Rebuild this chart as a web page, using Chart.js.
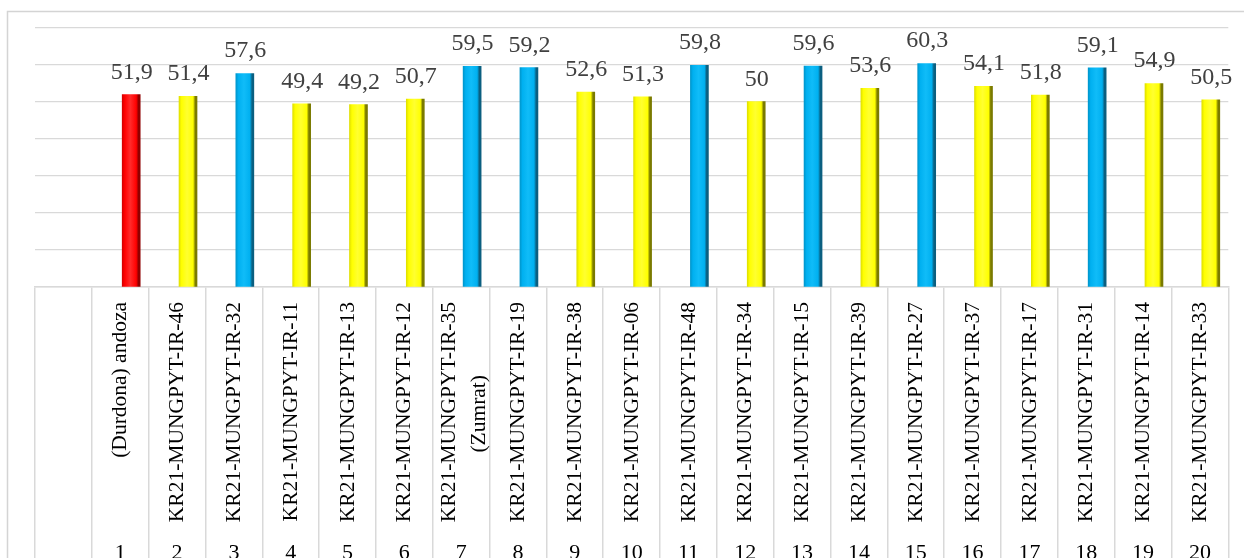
<!DOCTYPE html>
<html>
<head>
<meta charset="utf-8">
<script src="https://cdn.jsdelivr.net/npm/chart.js@4/dist/chart.umd.min.js"></script>
<style>
  html, body { margin: 0; padding: 0; background: #ffffff; }
  canvas { display: block; }
</style>
</head>
<body>
<canvas id="c" width="1244" height="558"></canvas>
<script>
// ---- data ----
const categories = [
  '(Durdona) andoza',
  'KR21-MUNGPYT-IR-46',
  'KR21-MUNGPYT-IR-32',
  'KR21-MUNGPYT-IR-11',
  'KR21-MUNGPYT-IR-13',
  'KR21-MUNGPYT-IR-12',
  ['KR21-MUNGPYT-IR-35', '(Zumrat)'],
  'KR21-MUNGPYT-IR-19',
  'KR21-MUNGPYT-IR-38',
  'KR21-MUNGPYT-IR-06',
  'KR21-MUNGPYT-IR-48',
  'KR21-MUNGPYT-IR-34',
  'KR21-MUNGPYT-IR-15',
  'KR21-MUNGPYT-IR-39',
  'KR21-MUNGPYT-IR-27',
  'KR21-MUNGPYT-IR-37',
  'KR21-MUNGPYT-IR-17',
  'KR21-MUNGPYT-IR-31',
  'KR21-MUNGPYT-IR-14',
  'KR21-MUNGPYT-IR-33'
];
const rowNumbers = [1, 2, 3, 4, 5, 6, 7, 8, 9, 10, 11, 12, 13, 14, 15, 16, 17, 18, 19, 20];
const values = [51.9, 51.4, 57.6, 49.4, 49.2, 50.7, 59.5, 59.2, 52.6, 51.3, 59.8, 50, 59.6, 53.6, 60.3, 54.1, 51.8, 59.1, 54.9, 50.5];
const barGroup = ['standard', 'other', 'best', 'other', 'other', 'other', 'best', 'best', 'other', 'other',
                  'best', 'other', 'best', 'other', 'best', 'other', 'other', 'best', 'other', 'other'];
const yTicks = [0, 10, 20, 30, 40, 50, 60, 70];

// ---- styles ----
const barStyles = {
  standard: { base: '#ff0000', light: '#ff2a2a', edgeL: '#d40000', edgeR: '#8f0000' },
  other:    { base: '#ffff00', light: '#ffff30', edgeL: '#e0e000', edgeR: '#7a7a00' },
  best:     { base: '#00b0f0', light: '#10bcf8', edgeL: '#0096cc', edgeR: '#0b5f80' }
};
const SERIF = "'Liberation Serif', 'Times New Roman', serif";
const GRID = '#d9d9d9';
const LABEL_FONT = { family: SERIF, size: 21.5 };

// table labels derived from categories
const tableMain = [''].concat(categories.map(c => Array.isArray(c) ? '' : c));
const tableMulti1 = [''].concat(categories.map(c => Array.isArray(c) ? c[0] : ''));
const tableMulti2 = [''].concat(categories.map(c => Array.isArray(c) ? c[1] : ''));
const tableNums = [''].concat(rowNumbers.map(String));

const points = rowNumbers.map((n, i) => ({ x: n, y: values[i] }));

const frame = {
  id: 'frame',
  beforeDraw(chart) {
    const c = chart.ctx;
    c.save();
    c.strokeStyle = '#d4d4d4';
    c.lineWidth = 1.5;
    c.beginPath();
    c.moveTo(7.5, 560);
    c.lineTo(7.5, 11.5);
    c.lineTo(1250, 11.5);
    c.stroke();
    c.restore();
  }
};

const valueLabels = {
  id: 'valueLabels',
  afterDatasetsDraw(chart) {
    const c = chart.ctx;
    const meta = chart.getDatasetMeta(0);
    c.save();
    c.font = '24px ' + SERIF;
    c.fillStyle = '#404040';
    c.textAlign = 'center';
    c.textBaseline = 'alphabetic';
    meta.data.forEach((el, i) => {
      const txt = String(values[i]).replace('.', ',');
      c.fillText(txt, el.x + 0.5, el.y - 16);
    });
    c.restore();
  }
};

function barFill(ctx) {
  const st = barStyles[barGroup[ctx.dataIndex]];
  const chart = ctx.chart;
  if (!chart.chartArea || ctx.type !== 'data') return st.base;
  const cx = chart.scales.x.getPixelForValue(rowNumbers[ctx.dataIndex]);
  const g = chart.ctx.createLinearGradient(cx - 9, 0, cx + 9, 0);
  g.addColorStop(0, st.edgeL);
  g.addColorStop(0.14, st.base);
  g.addColorStop(0.45, st.light);
  g.addColorStop(0.78, st.base);
  g.addColorStop(0.9, st.edgeR);
  g.addColorStop(1, st.edgeR);
  return g;
}

function fixedFit(h) {
  return s => {
    s.height = h;
    s.paddingLeft = 0; s.paddingRight = 0; s.paddingTop = 0; s.paddingBottom = 0;
  };
}

function labelAxis(labels, weight, padding, labelOffset, font, rotation) {
  return {
    type: 'category', position: 'bottom', weight: weight,
    labels: labels, offset: true,
    grid: { display: false, drawTicks: false },
    border: { display: false },
    ticks: { autoSkip: false, mirror: true, minRotation: rotation, maxRotation: rotation,
             padding: padding, labelOffset: labelOffset, font: font, color: '#000000' },
    afterFit: fixedFit(0)
  };
}

new Chart(document.getElementById('c'), {
  type: 'bar',
  data: {
    datasets: [{
      data: points,
      backgroundColor: barFill,
      borderWidth: 0,
      barThickness: 18,
      xAxisID: 'x',
      yAxisID: 'y'
    }]
  },
  options: {
    responsive: false,
    animation: false,
    devicePixelRatio: 1,
    layout: { padding: { left: 35, right: 15.7, top: 27.5, bottom: 0 } },
    plugins: { legend: { display: false }, tooltip: { enabled: false } },
    scales: {
      x: {
        type: 'linear', display: false, offset: false,
        min: -0.693, max: 20.308, weight: 0
      },
      y: {
        type: 'linear', min: 0, max: 70,
        afterBuildTicks: s => { s.ticks = yTicks.map(v => ({ value: v })); },
        grid: { color: GRID, lineWidth: 1.2, drawTicks: false },
        border: { display: false },
        ticks: { display: false }
      },
      tbl: {
        type: 'category', position: 'bottom', weight: 1,
        labels: tableMain, offset: true,
        grid: { offset: true, drawOnChartArea: false, drawTicks: true, tickLength: 271, color: GRID, lineWidth: 1.5 },
        border: { display: true, color: GRID, width: 1.5 },
        ticks: { autoSkip: false, minRotation: 90, maxRotation: 90, padding: -256, labelOffset: 0.5,
                 font: LABEL_FONT, color: '#000000' },
        afterFit: fixedFit(271)
      },
      tblA: labelAxis(tableMulti1, 2, 256, 13.8, LABEL_FONT, 90),
      tblB: labelAxis(tableMulti2, 3, 183, 43.8, LABEL_FONT, 90),
      num: labelAxis(tableNums, 4, -8.4, 0, { family: SERIF, size: 22 }, 0)
    }
  },
  plugins: [frame, valueLabels]
});
</script>
</body>
</html>
